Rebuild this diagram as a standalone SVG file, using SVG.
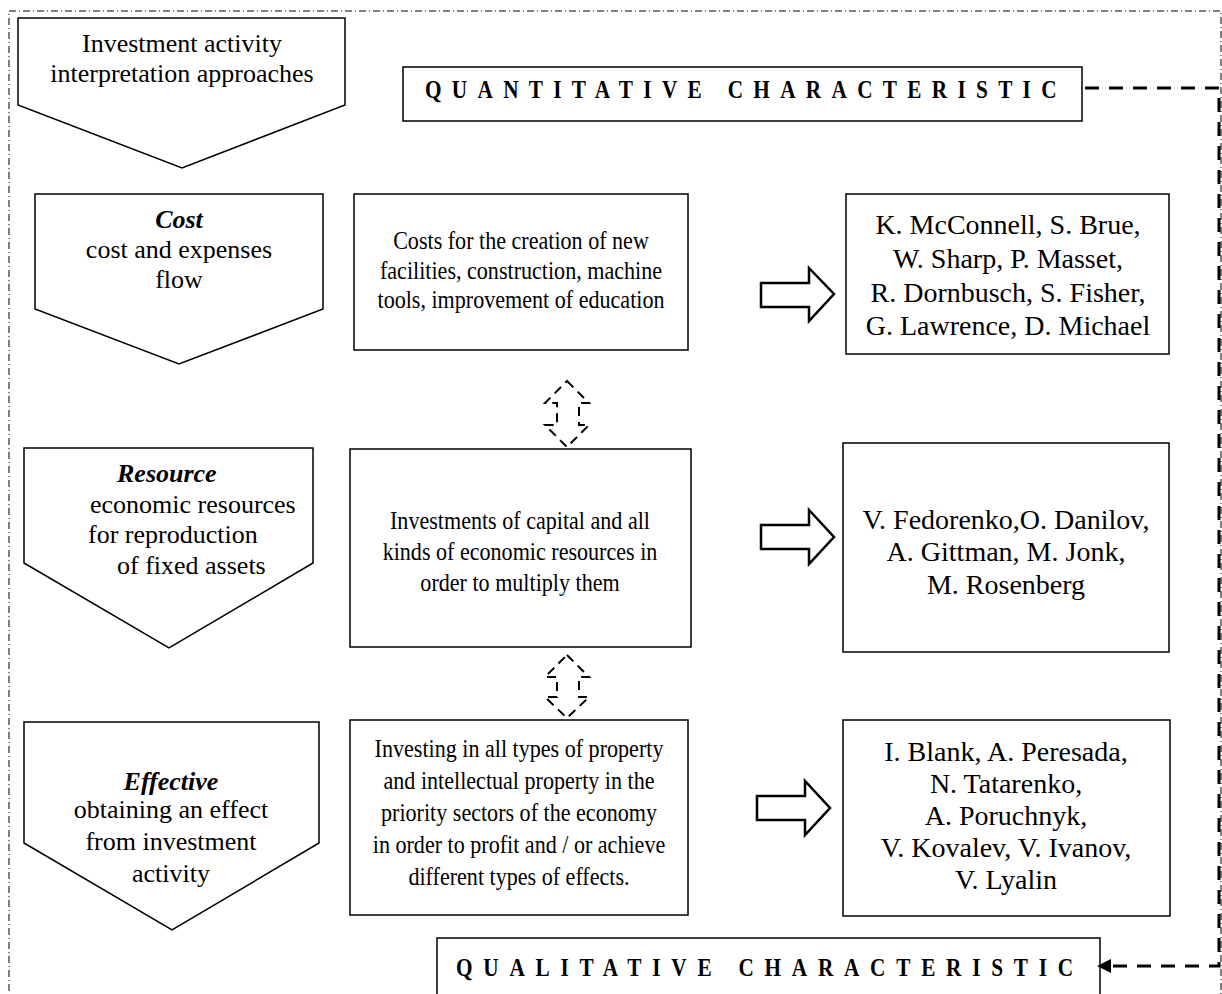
<svg xmlns="http://www.w3.org/2000/svg" width="1222" height="994" viewBox="0 0 1222 994">
<style>
.shape{fill:#fff;stroke:#000;stroke-width:1.5}
.barrow{fill:#fff;stroke:#000;stroke-width:2.5;stroke-linejoin:miter}
.darrow{fill:none;stroke:#000;stroke-width:2;stroke-dasharray:9,6}
.conn{fill:none;stroke:#000;stroke-width:3;stroke-dasharray:14,10}
.t{font-family:"Liberation Serif","Times New Roman",serif;fill:#000;text-anchor:middle}
.p{font-size:26px}
.m{font-size:26px}
.r{font-size:28px}
.bi{font-weight:bold;font-style:italic}
.h{font-family:"Liberation Serif","Times New Roman",serif;font-weight:bold;font-size:25px;fill:#000}
</style>
<rect id="frame" x="9" y="11" width="1212" height="1000" fill="none" stroke="#000" stroke-width="1" stroke-dasharray="7,3,1,3"/>

<g id="approaches">
<polygon class="shape" points="18,18 345,18 345,105 182,168 18,105"/>
<text class="t p" x="182" y="52">Investment activity</text>
<text class="t p" x="182" y="82">interpretation approaches</text>
</g>

<g id="quantitative">
<rect class="shape" x="403" y="67" width="679" height="54"/>
<text class="h" transform="translate(425,98) scale(0.85,1)" x="0" y="0" textLength="743" lengthAdjust="spacing">QUANTITATIVE CHARACTERISTIC</text>
</g>

<g id="cost">
<polygon class="shape" points="35,194 323,194 323,309 179,364 35,309"/>
<text class="t p bi" x="179" y="228">Cost</text>
<text class="t p" x="179" y="258">cost and expenses</text>
<text class="t p" x="179" y="288">flow</text>
</g>

<g id="cost-def">
<rect class="shape" x="354" y="194" width="334" height="156"/>
<g transform="translate(521,0) scale(0.85,1)">
<text class="t m" x="0" y="249">Costs for the creation of new</text>
<text class="t m" x="0" y="279">facilities, construction, machine</text>
<text class="t m" x="0" y="308">tools, improvement of education</text>
</g>
</g>

<g id="cost-authors">
<rect class="shape" x="846" y="194" width="323" height="160"/>
<text class="t r" x="1008" y="234">K. McConnell, S. Brue,</text>
<text class="t r" x="1008" y="268">W. Sharp, P. Masset,</text>
<text class="t r" x="1008" y="302">R. Dornbusch, S. Fisher,</text>
<text class="t r" x="1008" y="335">G. Lawrence, D. Michael</text>
</g>

<g id="resource">
<polygon class="shape" points="24,448 313,448 313,563 169,648 24,563"/>
<text class="t p bi" x="117" y="482" style="text-anchor:start">Resource</text>
<text class="t p" x="90" y="513" style="text-anchor:start">economic resources</text>
<text class="t p" x="88" y="543" style="text-anchor:start">for reproduction</text>
<text class="t p" x="117" y="574" style="text-anchor:start">of fixed assets</text>
</g>

<g id="resource-def">
<rect class="shape" x="350" y="449" width="341" height="198"/>
<g transform="translate(520,0) scale(0.85,1)">
<text class="t m" x="0" y="529">Investments of capital and all</text>
<text class="t m" x="0" y="560">kinds of economic resources in</text>
<text class="t m" x="0" y="591">order to multiply them</text>
</g>
</g>

<g id="resource-authors">
<rect class="shape" x="843" y="443" width="326" height="209"/>
<text class="t r" x="1006" y="529">V. Fedorenko,O. Danilov,</text>
<text class="t r" x="1006" y="561">A. Gittman, M. Jonk,</text>
<text class="t r" x="1006" y="594">M. Rosenberg</text>
</g>

<g id="effective">
<polygon class="shape" points="24,722 319,722 319,843 172,930 24,843"/>
<text class="t p bi" x="171" y="790">Effective</text>
<text class="t p" x="171" y="818">obtaining an effect</text>
<text class="t p" x="171" y="850">from investment</text>
<text class="t p" x="171" y="882">activity</text>
</g>

<g id="effective-def">
<rect class="shape" x="350" y="720" width="338" height="195"/>
<g transform="translate(519,0) scale(0.85,1)">
<text class="t m" x="0" y="757">Investing in all types of property</text>
<text class="t m" x="0" y="789">and intellectual property in the</text>
<text class="t m" x="0" y="821">priority sectors of the economy</text>
<text class="t m" x="0" y="853">in order to profit and / or achieve</text>
<text class="t m" x="0" y="885">different types of effects.</text>
</g>
</g>

<g id="effective-authors">
<rect class="shape" x="843" y="720" width="327" height="196"/>
<text class="t r" x="1006" y="761">I. Blank, A. Peresada,</text>
<text class="t r" x="1006" y="793">N. Tatarenko,</text>
<text class="t r" x="1006" y="825">A. Poruchnyk,</text>
<text class="t r" x="1006" y="857">V. Kovalev, V. Ivanov,</text>
<text class="t r" x="1006" y="889">V. Lyalin</text>
</g>

<g id="qualitative">
<rect class="shape" x="437" y="938" width="663" height="70"/>
<text class="h" transform="translate(456,976) scale(0.85,1)" x="0" y="0" textLength="726" lengthAdjust="spacing">QUALITATIVE CHARACTERISTIC</text>
</g>

<g id="connectors">
<polygon class="barrow" points="761,283 809,283 809,268 834,294 809,321 809,307 761,307"/>
<polygon class="barrow" points="761,525 809,525 809,510 834,537 809,564 809,549 761,549"/>
<polygon class="barrow" points="757,796 805,796 805,781 830,808 805,835 805,820 757,820"/>
<polygon class="darrow" points="567,381 589,403 579,403 579,425 589,425 567,447 545,425 557,425 557,403 545,403"/>
<polygon class="darrow" points="567,655 589,677 579,677 579,697 589,697 567,718 545,697 557,697 557,677 545,677"/>
<path class="conn" d="M1085,88 H1219 V966 H1108"/>
<polygon points="1097,966 1111,959 1111,973" fill="#000"/>
</g>
</svg>
